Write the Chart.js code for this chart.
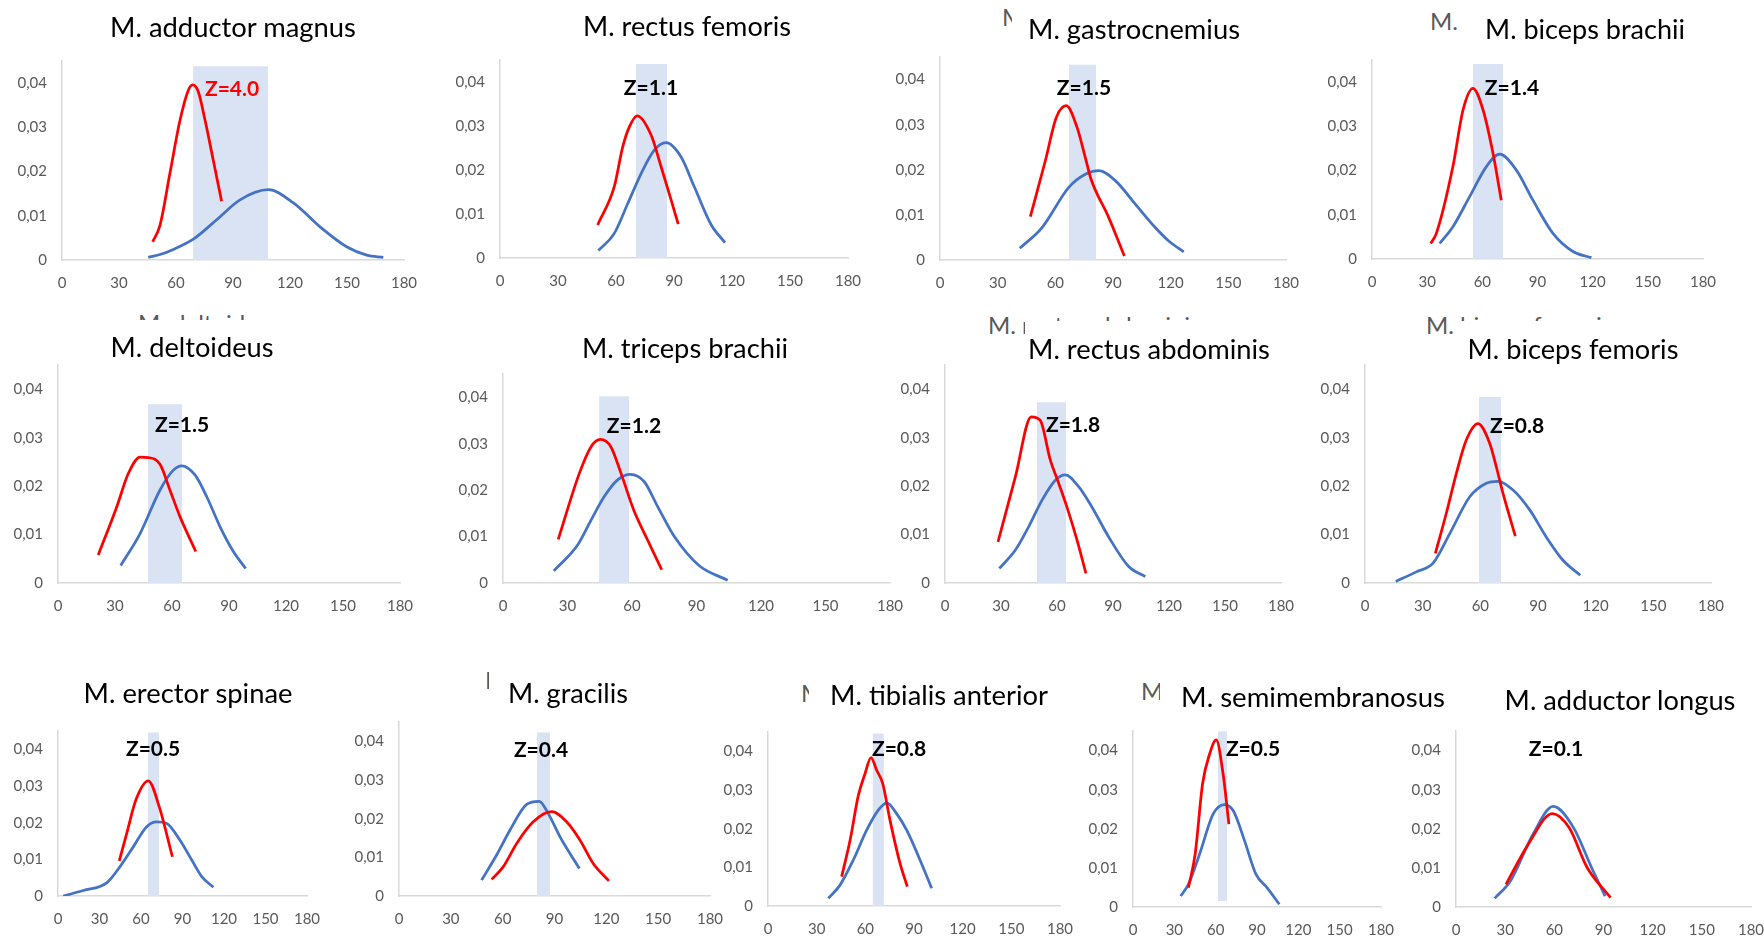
<!DOCTYPE html>
<html><head><meta charset="utf-8">
<script src="https://cdn.jsdelivr.net/npm/chart.js@4.4.0/dist/chart.umd.min.js"></script>
<style>
html,body{margin:0;padding:0;background:#fff;}
body{width:1764px;height:938px;position:relative;overflow:hidden;font-family:Lato,"Open Sans",sans-serif;}
.ghost{position:absolute;white-space:nowrap;color:#595959;font-family:Lato;line-height:1.2em;z-index:1;}
.mask{position:absolute;background:#fff;z-index:2;}
canvas{position:absolute;z-index:3;}
.title{position:absolute;white-space:nowrap;color:#000;font-family:Lato;line-height:1.2em;z-index:4;}
</style>
</head><body>
<script>
// ---------------- DATA ----------------
const xTicks = [0, 30, 60, 90, 120, 150, 180];
const yTicks = [0, 0.01, 0.02, 0.03, 0.04];
const yAxisMax = 0.045;

const muscles = ["M. adductor magnus","M. rectus femoris","M. gastrocnemius","M. biceps brachii",
  "M. deltoideus","M. triceps brachii","M. rectus abdominis","M. biceps femoris",
  "M. erector spinae","M. gracilis","M. tibialis anterior","M. semimembranosus","M. adductor longus"];
const zScores = ["Z=4.0","Z=1.1","Z=1.5","Z=1.4","Z=1.5","Z=1.2","Z=1.8","Z=0.8","Z=0.5","Z=0.4","Z=0.8","Z=0.5","Z=0.1"];
const zLabelX = [89.5, 78.1, 74.9, 76.1, 65.3, 60.9, 68.6, 79.1, 68.7, 82.2, 80.8, 87.1, 61];
const zLabelY = [0.0386, 0.0386, 0.038, 0.0386, 0.0326, 0.0338, 0.0326, 0.0324, 0.040, 0.0377, 0.0405, 0.0403, 0.0403];

const bandLow    = [69, 70.3, 67.1, 54.9, 47.4, 44.7, 49.3, 59.3, 65, 79.9, 64.6, 61.7, null];
const bandHigh   = [108.4, 86.4, 81.2, 71.2, 65.3, 58.6, 64.8, 70.8, 73, 87.4, 71.4, 68.2, null];
const bandTop    = [0.0438, 0.0441, 0.0433, 0.0441, 0.0369, 0.0402, 0.0373, 0.0384, 0.0446, 0.0423, 0.0446, 0.0449, null];
const bandBottom = [0, 0, 0, 0, 0, 0, 0, 0, 0, 0, 0, 0.0015, null];

const adductorMagnusRed = [[47.7,0.0041],[51.6,0.0079],[56.8,0.0196],[62.1,0.0316],[66.5,0.0384],[68.8,0.0396],[71.7,0.0381],[75.3,0.0316],[79.6,0.0226],[84.0,0.0133]];
const adductorMagnusBlue = [[45.4,0.0006],[52,0.0013],[58.6,0.0024],[69.1,0.0047],[81.4,0.0091],[93.7,0.0136],[108.6,0.0159],[121.8,0.0129],[135.8,0.0075],[149.8,0.003],[160.4,0.0011],[169.1,0.0006]];
const rectusFemorisRed = [[50.5,0.0075],[59.1,0.0162],[63.5,0.0253],[66.9,0.0298],[70.9,0.0323],[78.1,0.028],[83.3,0.0208],[88.5,0.0132],[92.2,0.0077]];
const rectusFemorisBlue = [[50.9,0.0017],[59.1,0.0056],[66.1,0.0124],[73,0.0192],[79.8,0.0245],[85.9,0.0262],[93.6,0.023],[100.5,0.0162],[109.3,0.0075],[116.4,0.0035]];
const gastrocnemiusRed = [[47,0.0096],[54.8,0.022],[60.5,0.0316],[65.7,0.0342],[71.3,0.0294],[75.6,0.0227],[78.6,0.0179],[87.8,0.0094],[95.9,0.0009]];
const gastrocnemiusBlue = [[41.5,0.0026],[53.1,0.0072],[67,0.0161],[75.6,0.019],[82.6,0.0198],[91.2,0.0176],[101.6,0.0124],[112,0.0072],[119,0.0042],[126.8,0.0018]];
const bicepsBrachiiRed = [[31.9,0.0035],[35,0.0058],[44,0.0209],[49.5,0.0337],[54.9,0.0386],[60.4,0.0337],[65.8,0.0239],[70.3,0.0133]];
const bicepsBrachiiBlue = [[36.8,0.0035],[44,0.0073],[53.1,0.0141],[62.2,0.0209],[69.4,0.0237],[78.5,0.0201],[87.5,0.0133],[98.4,0.0058],[109.3,0.0017],[119.3,0.0003]];
const deltoideusRed = [[21.2,0.0058],[30.9,0.0157],[37,0.0226],[43.2,0.026],[47.5,0.0259],[53.7,0.0245],[58.9,0.0192],[64.2,0.0137],[72.5,0.0065]];
const deltoideusBlue = [[33,0.0036],[43.2,0.0102],[53.7,0.0192],[60.7,0.0233],[65.1,0.0242],[72.1,0.0223],[78.3,0.0178],[85.3,0.0116],[92.3,0.0065],[98.8,0.003]];
const tricepsBrachiiRed = [[25.7,0.0094],[35.5,0.0236],[40.9,0.0293],[45.3,0.0309],[50.2,0.0293],[54.9,0.0236],[60.8,0.0157],[67.3,0.0092],[73.8,0.0029]];
const tricepsBrachiiBlue = [[23.6,0.0026],[34.7,0.0082],[40.9,0.0135],[47.1,0.0186],[53.3,0.0222],[59.2,0.0234],[65.7,0.0218],[72,0.0164],[79.7,0.01],[91.3,0.0037],[104.5,0.0006]];
const rectusAbdominisRed = [[28.4,0.0085],[37.7,0.0219],[46.2,0.0343],[51,0.0336],[56.4,0.0254],[60.9,0.0206],[65.3,0.0157],[70.7,0.0089],[75.5,0.002]];
const rectusAbdominisBlue = [[29.1,0.003],[37.7,0.0068],[44.8,0.0116],[52,0.0171],[59.1,0.0212],[64.4,0.0223],[71.6,0.0199],[78.7,0.0157],[87.7,0.0095],[98.4,0.0034],[107.3,0.0013]];
const bicepsFemorisRed = [[36.6,0.0061],[42.3,0.0144],[47.5,0.0226],[52.7,0.0295],[58.8,0.0329],[64.9,0.0288],[68.3,0.024],[71.8,0.0185],[78.2,0.0097]];
const bicepsFemorisBlue = [[16,0.0003],[26.7,0.0023],[35.4,0.0041],[44.1,0.0102],[54.5,0.0178],[63.1,0.0206],[69.2,0.021],[77,0.0192],[85.7,0.0151],[94.3,0.0095],[103,0.0047],[112,0.0016]];
const erectorSpinaeRed = [[44.3,0.0096],[49.7,0.0171],[56.4,0.0263],[65.3,0.0314],[73.2,0.0243],[82.7,0.0107]];
const erectorSpinaeBlue = [[3.8,0],[18.3,0.0015],[35.2,0.0036],[44.8,0.008],[54.4,0.0134],[64.1,0.0189],[71.4,0.0202],[78.6,0.0198],[88.2,0.0152],[96.7,0.0098],[103.9,0.0053],[112.3,0.0024]];
const gracilisRed = [[53.6,0.0043],[60.4,0.0076],[68.1,0.0136],[77.7,0.0192],[88.4,0.0218],[97,0.0192],[104.7,0.0145],[112.4,0.0084],[121.5,0.0039]];
const gracilisBlue = [[47.8,0.0041],[56.5,0.0106],[64.2,0.017],[73.9,0.0237],[81.2,0.0245],[86.4,0.0213],[93.2,0.0153],[104.4,0.0071]];
const tibialisAnteriorRed = [[45.4,0.0076],[50.6,0.017],[55.7,0.0286],[59.8,0.0342],[63.5,0.0384],[67,0.0351],[70.7,0.0317],[75.2,0.0222],[81.4,0.011],[85.9,0.005]];
const tibialisAnteriorBlue = [[37.2,0.002],[44.4,0.0054],[52.6,0.0119],[60.8,0.0196],[68,0.0248],[73.2,0.0267],[79.3,0.0239],[85.5,0.0196],[93.7,0.0119],[100.9,0.0046]];
const semimembranosusRed = [[40.2,0.0049],[45.1,0.0135],[50.5,0.0315],[55.5,0.039],[60.4,0.0427],[65.4,0.034],[69.6,0.0212]];
const semimembranosusBlue = [[34.6,0.0028],[40.2,0.0058],[48.3,0.0135],[58.2,0.0238],[66.3,0.0262],[72.8,0.0246],[81,0.0169],[89.2,0.0084],[97.4,0.0049],[106.2,0.0007]];
const adductorLongusRed = [[30.5,0.0058],[44.2,0.0161],[58.8,0.0239],[69,0.0203],[80,0.0101],[94.3,0.0024]];
const adductorLongusBlue = [[23.6,0.0022],[33.3,0.0067],[47,0.0186],[59.3,0.0257],[71.7,0.0203],[82.7,0.0101],[91,0.0028]];

const redCurves = [adductorMagnusRed, rectusFemorisRed, gastrocnemiusRed, bicepsBrachiiRed, deltoideusRed, tricepsBrachiiRed,
  rectusAbdominisRed, bicepsFemorisRed, erectorSpinaeRed, gracilisRed, tibialisAnteriorRed, semimembranosusRed, adductorLongusRed];
const blueCurves = [adductorMagnusBlue, rectusFemorisBlue, gastrocnemiusBlue, bicepsBrachiiBlue, deltoideusBlue, tricepsBrachiiBlue,
  rectusAbdominisBlue, bicepsFemorisBlue, erectorSpinaeBlue, gracilisBlue, tibialisAnteriorBlue, semimembranosusBlue, adductorLongusBlue];

// ---------------- LAYOUT ----------------
// pixel position of x=0, x=180, y=0, y=0.04 for each panel
const panels = [
  {x0:62,x1:404,y0:260,y4:83},{x0:500,x1:848,y0:258,y4:82},{x0:940,x1:1286,y0:259,y4:79},{x0:1372,x1:1703,y0:259,y4:82},
  {x0:58,x1:400,y0:583,y4:389},{x0:503,x1:890,y0:583,y4:397},{x0:945,x1:1281,y0:583,y4:389},{x0:1365,x1:1711,y0:583,y4:389},
  {x0:58,x1:307,y0:896,y4:749},{x0:399,x1:710,y0:896,y4:741},{x0:768,x1:1060,y0:906,y4:751},{x0:1133,x1:1381,y0:906,y4:750},{x0:1456,x1:1751,y0:906,y4:750}
];
// title: centre x, baseline y, target width
const titleBox = [[233,38,246],[687,37,208],[1134,40,212],[1585,40,200],
  [192,358,163],[685,359,206],[1149,360,242],[1573,360,211],
  [188,704,209],[568,704,120],[939,706,218],[1313,707,264],[1620,711,231]];
// hidden grey titles partly showing: panel, left, capTop, mask [l,t,r,b]
const ghosts = [[2,1002,9,[1012,0,1300,52]],[3,1430,13,[1462,0,1764,52]],[4,138,315,[100,320,300,361]],
  [6,988,317,[1025,321,1300,361]],[7,1426,317,[1455,321,1764,361]],[9,485,672,[489,655,720,725]],
  [10,801,685,[809,655,1080,725]],[11,1141,683,[1160,655,1420,725]]];

// ---------------- RENDER ----------------
Chart.defaults.font.family = 'Lato';
const RED = '#ff0000', BLUE = '#4472c4', BAND = '#dae3f3';

function addText(cls, text, fs, left, top) {
  const d = document.createElement('div');
  d.className = cls; d.textContent = text;
  d.style.fontSize = fs + 'px'; d.style.left = left + 'px'; d.style.top = top + 'px';
  document.body.appendChild(d); return d;
}

ghosts.forEach(([pi, left, capTop, m]) => {
  const fs = 24;
  addText('ghost', muscles[pi], fs, left, capTop - 0.27 * fs);
  const mk = document.createElement('div'); mk.className = 'mask';
  mk.style.left = m[0]+'px'; mk.style.top = m[1]+'px'; mk.style.width = (m[2]-m[0])+'px'; mk.style.height = (m[3]-m[1])+'px';
  document.body.appendChild(mk);
});

const bandPlugin = {
  id: 'band',
  beforeDatasetsDraw(chart, args, o) {
    if (o.low == null) return;
    const {ctx, scales: {x, y}} = chart;
    const l = x.getPixelForValue(o.low), r = x.getPixelForValue(o.high);
    const t = y.getPixelForValue(o.top), b = y.getPixelForValue(o.bottom);
    ctx.save(); ctx.fillStyle = BAND; ctx.fillRect(l, t, r - l, b - t); ctx.restore();
  }
};
const zPlugin = {
  id: 'zlabel',
  afterDatasetsDraw(chart, args, o) {
    const {ctx, scales: {x, y}} = chart;
    ctx.save(); ctx.font = 'bold 21px Lato'; ctx.fillStyle = o.color;
    ctx.textAlign = 'center'; ctx.textBaseline = 'middle';
    ctx.fillText(o.text, x.getPixelForValue(o.x), y.getPixelForValue(o.y));
    ctx.restore();
  }
};

panels.forEach((p, i) => {
  const pxY = (p.y0 - p.y4) / 0.04;
  const plotTop = p.y0 - yAxisMax * pxY;
  const W = p.x1 - p.x0, H = p.y0 - plotTop;
  const LW = 60, RP = 40, TP = 30, BH = 40;
  const cv = document.createElement('canvas');
  cv.width = Math.round(W + LW + RP); cv.height = Math.round(H + TP + BH);
  cv.style.left = (p.x0 - LW) + 'px'; cv.style.top = (plotTop - TP) + 'px';
  document.body.appendChild(cv);
  const toPts = arr => arr.map(([x, y]) => ({x, y}));
  new Chart(cv, {
    type: 'line',
    data: { datasets: [
      {data: toPts(redCurves[i]), borderColor: RED, borderWidth: 2.75, pointRadius: 0, fill: false, cubicInterpolationMode: 'monotone'},
      {data: toPts(blueCurves[i]), borderColor: BLUE, borderWidth: 2.75, pointRadius: 0, fill: false, cubicInterpolationMode: 'monotone'}
    ]},
    plugins: [bandPlugin, zPlugin],
    options: {
      responsive: false, animation: false, devicePixelRatio: 1,
      layout: {padding: {left: 0, right: RP, top: TP, bottom: 0}},
      plugins: {
        legend: {display: false}, tooltip: {enabled: false}, title: {display: false},
        band: {low: bandLow[i], high: bandHigh[i], top: bandTop[i], bottom: bandBottom[i]},
        zlabel: {text: zScores[i], x: zLabelX[i], y: zLabelY[i], color: i === 0 ? RED : '#000'}
      },
      scales: {
        x: {type: 'linear', min: 0, max: 180,
          afterBuildTicks: s => { s.ticks = xTicks.map(v => ({value: v})); },
          afterFit: s => { s.height = BH; },
          grid: {display: false, drawTicks: false},
          border: {display: true, color: '#d9d9d9', width: 1.5},
          ticks: {color: '#595959', font: {size: 15, family: 'Lato'}, padding: 14, maxRotation: 0, autoSkip: false}},
        y: {type: 'linear', min: 0, max: yAxisMax,
          afterBuildTicks: s => { s.ticks = yTicks.map(v => ({value: v})); },
          afterFit: s => { s.width = LW; },
          grid: {display: false, drawTicks: false},
          border: {display: true, color: '#d9d9d9', width: 1.5},
          ticks: {color: '#595959', font: {size: 15, family: 'Lato'}, padding: 15,
            callback: v => v === 0 ? '0' : v.toFixed(2).replace('.', ',')}}
      }
    }
  });
});

titleBox.forEach(([cx, base, tw], i) => {
  const d = addText('title', muscles[i], 25, 0, 0);
  const w0 = d.getBoundingClientRect().width;
  const fs = 25 * tw / w0;
  d.style.fontSize = fs + 'px';
  const w = d.getBoundingClientRect().width;
  d.style.left = (cx - w / 2) + 'px';
  d.style.top = (base - 0.987 * fs) + 'px';
});
</script>
</body></html>
